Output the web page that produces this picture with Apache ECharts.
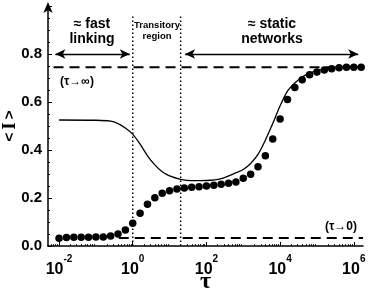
<!DOCTYPE html>
<html>
<head>
<meta charset="utf-8">
<script src="https://cdn.jsdelivr.net/npm/echarts@6/dist/echarts.min.js"></script>
<style>
  html, body { margin: 0; padding: 0; background: #fff; }
  #chart { width: 368px; height: 295px; }
</style>
</head>
<body>
<div id="chart"></div>
<script>
/* ---- data (x values are log10 of tau) ---- */
const dotLogTau = [-2, -1.8, -1.6, -1.4, -1.2, -1, -0.8, -0.6, -0.4, -0.2, 0,
    0.2, 0.4, 0.6, 0.8, 1, 1.2, 1.4, 1.6, 1.8, 2, 2.2, 2.4, 2.6, 2.8, 3,
    3.2, 3.4, 3.6, 3.8, 4, 4.2, 4.4, 4.6, 4.8, 5, 5.2, 5.4, 5.6, 5.8, 6, 6.2];
const dotValues = [0.032, 0.035, 0.036, 0.036, 0.036, 0.037, 0.038, 0.042, 0.05, 0.067, 0.095,
    0.136, 0.174, 0.201, 0.22, 0.23, 0.237, 0.242, 0.245, 0.247, 0.25, 0.253, 0.257, 0.261, 0.267, 0.282,
    0.299, 0.33, 0.376, 0.446, 0.529, 0.61, 0.66, 0.693, 0.714, 0.725, 0.733, 0.739, 0.743, 0.745, 0.745, 0.745];

const lineLogTau = [-2, -1, -0.6, -0.4, -0.2, 0, 0.2, 0.4, 0.6, 0.8, 1, 1.3, 1.6, 2, 2.4, 2.8,
    3, 3.2, 3.4, 3.6, 3.8, 4, 4.2, 4.4, 4.6, 4.8, 5, 5.4, 5.8, 6.2];
const lineValues = [0.525, 0.524, 0.52, 0.51, 0.492, 0.466, 0.424, 0.376, 0.338, 0.309, 0.292, 0.278, 0.272, 0.273, 0.281, 0.305,
    0.319, 0.344, 0.382, 0.441, 0.51, 0.584, 0.645, 0.679, 0.704, 0.72, 0.731, 0.741, 0.745, 0.747];

const limitInf = 0.745;   // (tau -> inf)
const limitZero = 0.033;  // (tau -> 0)
const regionBounds = [0, 1.3];
const xTickExps = [-2, 0, 2, 4, 6];
const yTicks = ["0.0", "0.2", "0.4", "0.6", "0.8"];

/* ---- helpers ---- */
const FONT = '"Liberation Sans", Arial, Helvetica, sans-serif';
const SERIF = '"Liberation Serif", "Times New Roman", serif';
const pairs = (xs, ys) => xs.map((x, i) => [x, ys[i]]);

const minorTicks = [];
for (let n = -3; n <= 6; n++) {
    for (let k = 2; k <= 9; k++) {
        const v = n + Math.log10(k);
        if (v > -2.3 && v < 6.25) minorTicks.push(v);
    }
}

const chart = echarts.init(document.getElementById("chart"));

const axisCommon = { min: -2.3, max: 6.25, type: "value", splitLine: { show: false } };

chart.setOption({
    animation: false,
    grid: { left: 48, right: 5, top: 6, bottom: 49, containLabel: false, outerBoundsMode: "none" },
    xAxis: [
        Object.assign({}, axisCommon, {
            axisLine: { onZero: false, lineStyle: { color: "#000", width: 1.5 } },
            axisTick: { inside: true, length: 4, customValues: xTickExps, lineStyle: { color: "#000" } },
            axisLabel: {
                customValues: xTickExps, margin: 8, color: "#000",
                formatter: v => "{b|10}{s|" + v + "}",
                rich: {
                    b: { fontFamily: FONT, fontWeight: "bold", fontSize: 16, color: "#000" },
                    s: { fontFamily: FONT, fontWeight: "bold", fontSize: 10, color: "#000", padding: [0, 0, 22, 0] },
                },
            },
            name: "τ", nameLocation: "middle", nameGap: 24, nameMoveOverlap: false,
            nameTextStyle: { fontFamily: SERIF, fontWeight: "bold", fontSize: 24, color: "#000" },
        }),
        Object.assign({}, axisCommon, {
            position: "bottom",
            axisLine: { show: false, onZero: false },
            axisTick: { inside: true, length: 2, customValues: minorTicks, lineStyle: { color: "#000", width: 0.8 } },
            axisLabel: { show: false },
        }),
    ],
    yAxis: {
        type: "value", min: 0, max: 1, interval: 0.2,
        axisLine: { onZero: false, lineStyle: { color: "#000", width: 1.5 }, symbol: ["none", "arrow"], symbolSize: [7, 11], symbolOffset: [0, 4] },
        axisTick: { inside: true, length: 4, lineStyle: { color: "#000" } },
        minorTick: { show: true, splitNumber: 4, length: 2, lineStyle: { color: "#000" } },
        splitLine: { show: false },
        axisLabel: {
            margin: 6, color: "#000", fontFamily: FONT, fontWeight: "bold", fontSize: 15,
            formatter: v => yTicks[Math.round(v / 0.2)] || "",
        },
        name: "{a|<} {i|I} {a|>}", nameLocation: "middle", nameRotate: 90, nameGap: 29, nameMoveOverlap: false,
        nameTextStyle: {
            rich: {
                a: { fontFamily: FONT, fontWeight: "bold", fontSize: 15, color: "#000" },
                i: { fontFamily: SERIF, fontWeight: "bold", fontSize: 18, color: "#000" },
            },
        },
    },
    series: [
        {
            type: "line", data: [[-2.15, limitInf], [6.25, limitInf]], symbol: "none",
            lineStyle: { color: "#000", width: 2, type: [10, 6] }, z: 1,
        },
        {
            type: "line", data: [[-0.38, limitZero], [6.25, limitZero]], symbol: "none",
            lineStyle: { color: "#000", width: 2, type: [10, 6] }, z: 1,
        },
        {
            type: "line", data: [[regionBounds[0], 0], [regionBounds[0], 0.96]], symbol: "none",
            lineStyle: { color: "#000", width: 1.5, type: [1.5, 2.5] }, z: 1,
        },
        {
            type: "line", data: [[regionBounds[1], 0], [regionBounds[1], 0.96]], symbol: "none",
            lineStyle: { color: "#000", width: 1.5, type: [1.5, 2.5] }, z: 1,
            markLine: {
                silent: true, symbol: ["arrow", "arrow"], symbolSize: [7, 10],
                label: { show: false },
                lineStyle: { color: "#000", width: 1.3, type: "solid" },
                data: [
                    [{ coord: [-2.1, 0.8] }, { coord: [-0.08, 0.8] }],
                    [{ coord: [1.42, 0.8] }, { coord: [6.12, 0.8] }],
                ],
            },
        },
        {
            type: "line", data: pairs(lineLogTau, lineValues), symbol: "none", smooth: 0.3,
            lineStyle: { color: "#000", width: 1.3 }, z: 2,
        },
        {
            type: "scatter", data: pairs(dotLogTau, dotValues), symbol: "circle", symbolSize: 7.5,
            itemStyle: { color: "#000", opacity: 1 }, z: 3,
        },
    ],
    graphic: [
        { type: "text", x: 92, y: 32, style: { text: "≈ fast\nlinking", font: "bold 14px " + FONT, fill: "#000", align: "center", verticalAlign: "middle", lineHeight: 15 } },
        { type: "text", x: 157, y: 31, style: { text: "Transitory\nregion", font: "bold 9.5px " + FONT, fill: "#000", align: "center", verticalAlign: "middle", lineHeight: 11 } },
        { type: "text", x: 272, y: 32, style: { text: "≈ static\nnetworks", font: "bold 14px " + FONT, fill: "#000", align: "center", verticalAlign: "middle", lineHeight: 15 } },
        { type: "text", x: 60, y: 82, style: { text: "(τ→∞)", font: "bold 12px " + FONT, fill: "#000", align: "left", verticalAlign: "middle" } },
        { type: "text", x: 357, y: 227, style: { text: "(τ→0)", font: "bold 12px " + FONT, fill: "#000", align: "right", verticalAlign: "middle" } },
    ],
});
</script>
</body>
</html>
